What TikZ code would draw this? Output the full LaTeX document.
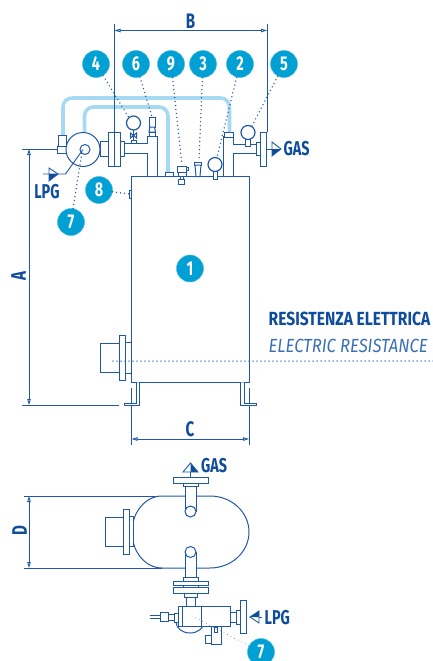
\documentclass[tikz,border=0pt]{standalone}
\usepackage{fontspec}
\setmainfont{Fira Sans}
\newfontfamily\narrowfont[FakeStretch=0.72]{Fira Sans}
\newfontfamily\elecfont[FakeStretch=0.82]{Fira Sans}
\newfontfamily\elecitfont[FakeStretch=0.875]{Fira Sans}
\usetikzlibrary{arrows.meta}
\definecolor{lineblue}{HTML}{1F58A6}
\definecolor{textblue}{HTML}{0F4C9C}
\definecolor{softblue}{HTML}{3A6FB3}
\definecolor{bubble}{HTML}{009FD4}
\definecolor{pipe}{HTML}{A5DAF1}
\tikzset{
  x=1pt,y=-1pt,
  part/.style={draw=lineblue,line width=1pt,fill=white},
  wire/.style={draw=lineblue,line width=0.9pt},
  thinline/.style={draw=lineblue,line width=0.7pt},
  lightpipe/.style={draw=pipe,line width=3.6pt,rounded corners=9pt},
  lead/.style={draw=lineblue,line width=1.5pt,line cap=round,dash pattern=on 0pt off 4pt},
  num/.style={circle,fill=bubble,draw=bubble!70!white,line width=0.5pt,minimum size=27pt,inner sep=0pt,text=white,font=\narrowfont\bfseries\fontsize{20}{20}\selectfont},
  dimtxt/.style={text=textblue,inner sep=0pt,font=\narrowfont\bfseries\fontsize{21}{21}\selectfont},
  lbl/.style={text=textblue,inner sep=0pt,font=\narrowfont\bfseries\fontsize{20}{20}\selectfont},
  dim/.style={draw=lineblue,line width=0.9pt,{Triangle[open,length=6pt,width=3.5pt,fill=white]}-{Triangle[open,length=6pt,width=3.5pt,fill=white]}},
}
\begin{document}
\begin{tikzpicture}
\useasboundingbox (0,0) rectangle (433,661);
% dimension anchors
\coordinate (bL) at (114.5,30.5); \coordinate (bR) at (267,30.5);
\coordinate (aT) at (29,149); \coordinate (aB) at (29,405);
\coordinate (cL) at (131.5,439); \coordinate (cR) at (249,439);
\coordinate (dT) at (29,496); \coordinate (dB) at (29,568);
% light pipes
\draw[lightpipe] (63,136) -- (63,98) -- (229.5,98) -- (229.5,134);
\draw[lightpipe] (84.5,134) -- (84.5,107) -- (168,107) -- (168,173);
% extension lines
\draw[wire] (114.5,24) -- (114.5,166);
\draw[wire] (267,24) -- (267,132);
\draw[wire] (22,149) -- (58,149);
\draw[wire] (22,405) -- (119,405);
\draw[wire] (131.5,388) -- (131.5,445);
\draw[wire] (249,388) -- (249,445);
\draw[wire] (24,496) -- (162,496);
\draw[wire] (24,568) -- (162,568);
% dimensions
\draw[dim] (bL) -- (bR);
\draw[dim] (aT) -- (aB);
\draw[dim] (cL) -- (cR);
\draw[dim] (dT) -- (dB);
\node[dimtxt] (tB) at (190.5,21) {B};
\node[dimtxt] (tC) at (190,429) {C};
\node[dimtxt,rotate=90] (tA) at (18.5,276) {A};
\node[dimtxt,rotate=90] (tD) at (19.5,531) {D};
% tank
\draw[part] (131.5,176.5) rectangle (249,382.3);
\draw[part] (136,382.3) -- (136,403) -- (124,403) -- (124,405.5) -- (139.5,405.5) -- (139.5,382.3);
\draw[part] (244,382.3) -- (244,403) -- (256.5,403) -- (256.5,405.5) -- (240.7,405.5) -- (240.7,382.3);
% heater
\draw[part] (125,342) rectangle (131.5,373);
\draw[part] (119,335) rectangle (125,380);
\draw[part] (100.5,343.5) rectangle (119,372);
% item 8
\draw[part] (129,190) rectangle (131.5,198);
% left assembly
\draw[part] (124,143) -- (147,143) -- (147,136) -- (157.7,136) -- (157.7,176.5) -- (147,176.5) -- (147,153) -- (124,153) -- cycle;
\draw[part] (120.7,141.7) rectangle (124,156);
\draw[part] (108.3,132.5) rectangle (120.7,166);
\draw[part,fill=none] (114.5,132.5) -- (114.5,166);
\draw[part] (100,141.7) rectangle (108.3,156);
\draw[part] (57,146) rectangle (67,153);
\draw[part] (58,135) rectangle (66,146);
\draw[part] (83,149.5) circle[radius=17pt];
\draw[part] (85,149.5) circle[radius=5pt];
% gauge 4
\draw[wire] (133.5,130) -- (133.5,143);
\draw[part] (130.5,138) -- (136.5,133) -- (136.5,138) -- (130.5,133) -- cycle;
\draw[part] (131,140) rectangle (136,143);
\draw[part,line width=1.2pt] (133.5,123) circle[radius=7pt];
% item 6
\draw[part] (149.5,117) rectangle (155,127);
\draw[part] (150,127) -- (154.5,127) -- (155.5,132) -- (149,132) -- cycle;
\draw[part] (149.5,132) rectangle (155,136);
% right assembly
\draw[part] (233,144) -- (256.7,144) -- (256.7,153) -- (233,153) -- (233,176.5) -- (223,176.5) -- (223,136) -- (233,136) -- cycle;
\draw[part] (224,132.5) rectangle (233,137);
\draw[part] (256.7,142) rectangle (260,155);
\draw[part] (260,132.5) rectangle (266,166);
% gauge 5
\draw[part] (245,139) rectangle (250,146.5);
\draw[part,line width=1.2pt] (248,132.5) circle[radius=7pt];
% top fittings
\draw[part] (165,172) rectangle (173,176.5);
\draw[part] (178,172) rectangle (186,176);
\draw[part] (186,167.5) rectangle (188.5,170.5);
\draw[part] (177,166) rectangle (186,172);
\draw[part] (178.5,179) rectangle (184.5,184);
\draw[part] (180,176) rectangle (183,179);
\draw[part] (194,162.5) rectangle (201.5,165);
\draw[part] (195,165) -- (201,165) -- (200,176.5) -- (196,176.5) -- cycle;
\draw[part] (213,170) rectangle (217,179);
\draw[part,line width=1.2pt] (215,164.5) circle[radius=7pt];
% GAS arrow upper
\draw[wire] (266,149) -- (272,149);
\fill[textblue] (272,149) -- (281,149) -- (272,156) -- cycle;
\draw[wire,fill=none] (272,156) -- (272,142) -- (281,149) -- cycle;
\node[lbl,anchor=west] (gas1) at (283.5,149) {GAS};
% LPG arrow upper
\draw[wire] (83,149.5) -- (65.5,174) -- (43,174);
\fill[textblue] (49,174) -- (58,174) -- (49,181) -- cycle;
\draw[wire,fill=none] (49,181) -- (49,168) -- (58,174) -- cycle;
\node[lbl] (lpg1) at (47,192) {LPG};
% resistance text
\node[anchor=west,inner sep=0pt,text=textblue,font=\elecfont\bfseries\fontsize{19}{19}\selectfont] (r1) at (268.5,319) {RESISTENZA ELETTRICA};
\node[anchor=west,inner sep=0pt,text=softblue,font=\elecitfont\itshape\fontsize{19}{19}\selectfont] (r2) at (268.5,346) {ELECTRIC RESISTANCE};
% lower view
\draw[part] (162,496) -- (210,496) arc[start angle=90,end angle=-90,x radius=39pt,y radius=36pt] -- (162,568) arc[start angle=270,end angle=90,x radius=30pt,y radius=36pt] -- cycle;
\draw[part] (125,516) rectangle (133,546);
\draw[part] (105,517.5) rectangle (124,546.5);
\draw[part] (123.5,509.5) rectangle (129.5,554);
\draw[part] (185,483) -- (196,483) -- (196,511.5) -- (185,511.5) -- cycle;
\draw[part] (190.5,511.5) circle[radius=5.5pt];
\draw[part] (173.3,477.7) rectangle (208.3,483.5);
\draw[part] (183,483.5) rectangle (198,486);
\draw[wire] (190.5,472) -- (190.5,477.7);
\fill[textblue] (190.5,463) -- (198,472) -- (190.5,472) -- cycle;
\draw[wire,fill=none] (183,472) -- (190.5,463) -- (198,472) -- cycle;
\node[lbl,anchor=west] (gas2) at (201,466) {GAS};
\draw[part] (185,552) -- (196,552) -- (196,578) -- (185,578) -- cycle;
\draw[part] (190.5,552) circle[radius=5.5pt];
\draw[part] (183,577.5) rectangle (198,581);
\draw[part] (173.3,581) rectangle (208.3,585.5);
\draw[part] (173.3,587.5) rectangle (208.3,593);
\draw[part] (183,585.5) rectangle (198,587.5);
\draw[part] (184,593) rectangle (197,597);
\draw[part] (186,597) rectangle (195,607);
% lower LPG group
\draw[part] (176,622) arc[start angle=180,end angle=360,x radius=14pt,y radius=11pt];
\draw[part] (178,606.7) rectangle (230.7,626.7);
\draw[part,fill=none] (182,606.7) -- (182,626.7);
\draw[part,fill=none] (201.7,606.7) -- (201.7,626.7);
\draw[part] (174,613) rectangle (178,622);
\draw[part] (168,614.5) rectangle (174,620);
\draw[part] (160,612.5) rectangle (168,621);
\draw[thinline] (150,615.5) -- (160,615.5);
\draw[thinline] (150,618) -- (160,618);
\draw[part] (230.7,612) rectangle (236,622);
\draw[part] (236,610) rectangle (240,624);
\draw[part] (240,600) rectangle (246.5,633);
\draw[part] (211.7,626.7) rectangle (221.7,644);
\draw[part] (205,635.5) rectangle (211.7,643);
\draw[part] (214,627) rectangle (217,632);
\draw[wire] (259,617) -- (262,617);
\fill[textblue] (250,617) -- (259,611) -- (259,617) -- cycle;
\draw[wire,fill=none] (250,617) -- (259,611) -- (259,623) -- cycle;
\node[lbl,anchor=west] (lpg2) at (264.5,618) {LPG};
% leader ends
\coordinate (e4) at (129,118); \coordinate (e6) at (152,117);
\coordinate (e9) at (182,165); \coordinate (e3) at (199,160);
\coordinate (e2) at (217,157); \coordinate (e5) at (252,126);
\coordinate (e8) at (129,194); \coordinate (e7) at (82,152);
\coordinate (e7b) at (190,615); \coordinate (eR) at (433,361); \coordinate (eRs) at (113,361);
\node[num] (n4) at (96,64) {4};
\node[num] (n6) at (136,64) {6};
\node[num] (n9) at (171,64) {9};
\node[num] (n3) at (203,64) {3};
\node[num] (n2) at (240,64) {2};
\node[num] (n5) at (284,64) {5};
\node[num] (n8) at (99,190) {8};
\node[num] (n7) at (71,222) {7};
\node[num] (n1) at (190,268.5) {1};
\node[num] (n7b) at (261,652) {7};
\draw[lead] (n4) -- (e4);
\draw[lead] (n6) -- (e6);
\draw[lead] (n9) -- (e9);
\draw[lead] (n3) -- (e3);
\draw[lead] (n2) -- (e2);
\draw[lead] (n5) -- (e5);
\draw[lead] (n8) -- (e8);
\draw[lead] (n7) -- (e7);
\draw[lead,line width=0.8pt] (n7b) -- (e7b);
\draw[lead] (eRs) -- (eR);
\end{tikzpicture}
\end{document}
